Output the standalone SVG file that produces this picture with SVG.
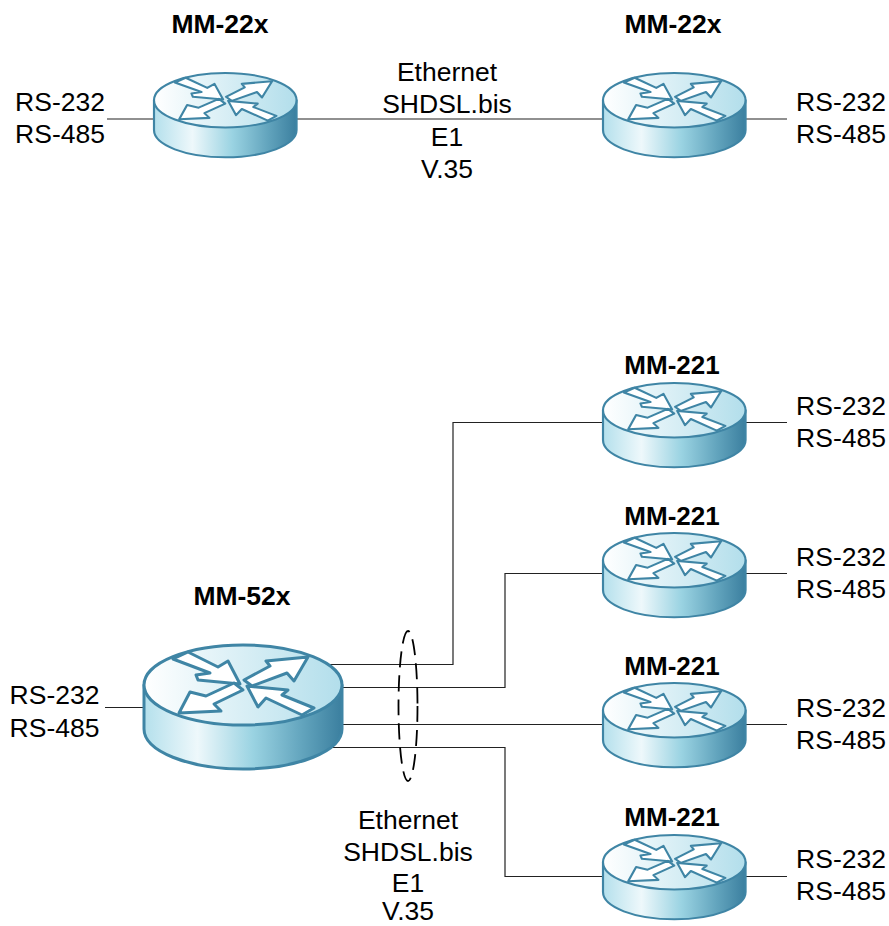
<svg xmlns="http://www.w3.org/2000/svg" xmlns:xlink="http://www.w3.org/1999/xlink" width="889" height="926" viewBox="0 0 889 926">
<style>
text{font-family:"Liberation Sans",Arial,sans-serif;font-size:26.5px;fill:#000;text-anchor:middle}
.b{font-weight:bold}
.n{font-size:26px}
.w{fill:none;stroke:#222;stroke-width:1.2}
.o{stroke:#3f85a5;stroke-width:3;stroke-linejoin:round}
.a{fill:#fff;stroke:#3f85a5;stroke-width:3;stroke-linejoin:round}
</style>
<defs>
<linearGradient id="body" x1="0" x2="1" y1="0" y2="0">
<stop offset="0" stop-color="#b4e0ec"/><stop offset=".27" stop-color="#eef8fb"/><stop offset=".55" stop-color="#9ad3e2"/><stop offset=".8" stop-color="#62a4bd"/><stop offset="1" stop-color="#3b7f9f"/>
</linearGradient>
<linearGradient id="top" x1="0" x2="1" y1="0" y2="0">
<stop offset="0" stop-color="#fff"/><stop offset="1" stop-color="#b2deeb"/>
</linearGradient>
<g id="router">
<path class="o" fill="url(#body)" d="M0 40V84C0 106 44 124 99 124S198 106 198 84V40Z"/>
<ellipse class="o" fill="url(#top)" cx="99" cy="40" rx="99" ry="40"/>
<polygon class="a" points="29,14 44,7 74,22 84,16 96,39 54,35 52,30 66,28"/>
<polygon class="a" points="100,35 126,21 122,16 164,12 150,36 143,28 108,41"/>
<polygon class="a" points="90,38 62,51 46,47 35,68 77,66 70,59 99,45"/>
<polygon class="a" points="103,41 144,45 138,50 170,63 158,70 122,53 114,62"/>
</g>
</defs>
<g id="connectors">
<path class="w" d="M107 119H154M297 119H604M745 119H787"/>
<path class="w" d="M329 664.500H453V422.500H604M342 687.500H505V573.500H604M342 724.500H604M332 747.500H505V876.500H604M105 707.500H144"/>
<path class="w" d="M745 422.500H787M745 573.500H787M745 724.500H787M745 876.500H787"/>
<ellipse cx="408" cy="706" rx="9.500" ry="75" fill="none" stroke="#000" stroke-width="1.800" stroke-dasharray="16 8"/>
</g>
<g id="mm22x-left"><use xlink:href="#router" href="#router" transform="translate(154,73) scale(.72,.68)"/><text class="b" x="220" y="33">MM-22x</text><text x="60" y="111">RS-232</text><text x="60" y="143">RS-485</text></g>
<g id="mm22x-right"><use xlink:href="#router" href="#router" transform="translate(603,73) scale(.72,.68)"/><text class="b" x="673" y="33">MM-22x</text><text x="841" y="111">RS-232</text><text x="841" y="143">RS-485</text></g>
<g id="link-label-top"><text x="447" y="81">Ethernet</text><text x="447" y="113">SHDSL.bis</text><text x="447" y="146">E1</text><text x="447" y="178">V.35</text></g>
<g id="mm221-1"><use xlink:href="#router" href="#router" transform="translate(603,383) scale(.72,.68)"/><text class="b n" x="672" y="374">MM-221</text><text x="841" y="415">RS-232</text><text x="841" y="447">RS-485</text></g>
<g id="mm221-2"><use xlink:href="#router" href="#router" transform="translate(603,533) scale(.72,.68)"/><text class="b n" x="672" y="525">MM-221</text><text x="841" y="566">RS-232</text><text x="841" y="598">RS-485</text></g>
<g id="mm221-3"><use xlink:href="#router" href="#router" transform="translate(603,683) scale(.72,.68)"/><text class="b n" x="672" y="675">MM-221</text><text x="841" y="717">RS-232</text><text x="841" y="749">RS-485</text></g>
<g id="mm221-4"><use xlink:href="#router" href="#router" transform="translate(603,835) scale(.72,.68)"/><text class="b n" x="672" y="826">MM-221</text><text x="841" y="868">RS-232</text><text x="841" y="900">RS-485</text></g>
<g id="mm52x"><use xlink:href="#router" href="#router" transform="translate(144,645)"/><text class="b" x="242" y="605">MM-52x</text><text x="54.500" y="704">RS-232</text><text x="54.500" y="737">RS-485</text></g>
<g id="link-label-bottom"><text x="408" y="829">Ethernet</text><text x="408" y="861">SHDSL.bis</text><text x="408" y="892">E1</text><text x="408" y="920">V.35</text></g>
</svg>
